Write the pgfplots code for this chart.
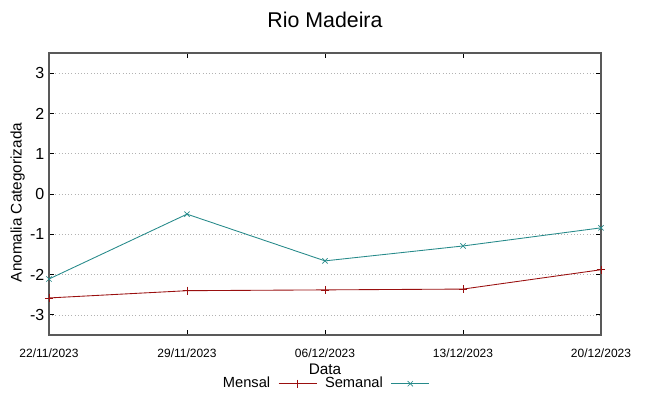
\documentclass[border=0pt]{standalone}
\usepackage{pgfplots}
\pgfplotsset{compat=1.18}
\usepackage{fontspec}
\setmainfont{Liberation Sans}
\definecolor{mred}{HTML}{9A0F0F}
\definecolor{mcyan}{HTML}{268A8A}
\begin{document}
\begin{tikzpicture}
\useasboundingbox (-36.75pt,-45.75pt) rectangle (450pt,251.25pt);
\begin{axis}[
  at={(0,0)}, anchor=south west,
  scale only axis, width=414pt, height=211.5pt,
  xmin=0, xmax=28, ymin=-3.5, ymax=3.5,
  xtick={0,7,14,21,28},
  xticklabels={22/11/2023,29/11/2023,06/12/2023,13/12/2023,20/12/2023},
  ytick={-3,-2,-1,0,1,2,3},
  ymajorgrids, grid style={dotted, gray!60, line width=0.5pt},
  axis line style={gray!70!black, line width=0.9pt},
  tick style={black, line width=0.6pt},
  tick align=inside, major tick length=4pt,
  xticklabel style={font=\fontsize{9}{10}\selectfont, yshift=-7pt},
  yticklabel style={font=\fontsize{12}{14}\selectfont},
  /pgf/number format/assume math mode=true,
  clip=false,
  legend style={at={(rel axis cs:0.5,0)}, anchor=center, yshift=-36.5pt, draw=none, fill=none,
    font=\fontsize{11}{12}\selectfont, column sep=4pt, inner sep=0pt},
  legend columns=2, legend plot pos=right,
  legend image code/.code={\draw[mark repeat=2,mark phase=2] plot coordinates {(0cm,0cm)(0.5cm,0cm)(1cm,0cm)};},
]
\addplot[mred, line width=0.65pt, mark=+, mark size=3pt, mark options={line width=0.5pt}] coordinates {
  (0,-2.58) (7,-2.40) (14,-2.38) (21,-2.36) (28,-1.88)
};
\addlegendentry{Mensal}
\addplot[mcyan, line width=0.65pt, mark=x, mark size=2.8pt, mark options={line width=0.5pt}] coordinates {
  (0,-2.11) (7,-0.50) (14,-1.66) (21,-1.29) (28,-0.84)
};
\addlegendentry{Semanal}
\node[font=\fontsize{16}{18}\selectfont] at (rel axis cs:0.5,1) [yshift=25pt] {Rio Madeira};
\node[font=\fontsize{11.5}{13}\selectfont] at (rel axis cs:0.5,0) [yshift=-26pt] {Data};
\node[font=\fontsize{11.5}{13}\selectfont, rotate=90] at ([xshift=-23.5pt]rel axis cs:0,0.47) {Anomalia Categorizada};
\end{axis}
\end{tikzpicture}
\end{document}
